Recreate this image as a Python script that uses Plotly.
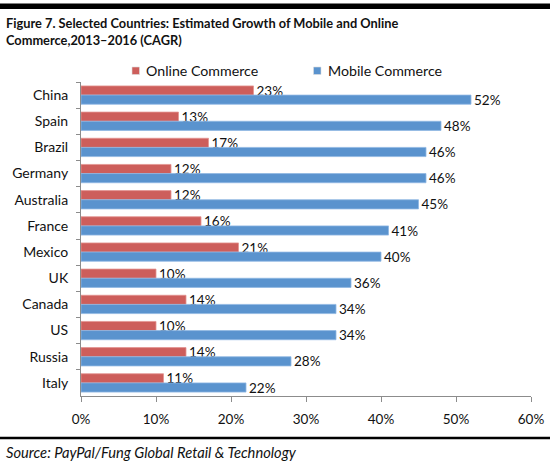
import plotly.graph_objects as go

countries = ["China", "Spain", "Brazil", "Germany", "Australia", "France",
             "Mexico", "UK", "Canada", "US", "Russia", "Italy"]
online = [23, 13, 17, 12, 12, 16, 21, 10, 14, 10, 14, 11]
mobile = [52, 48, 46, 46, 45, 41, 40, 36, 34, 34, 28, 22]
x_ticks = [0, 10, 20, 30, 40, 50, 60]
x_ticklabels = ["0%", "10%", "20%", "30%", "40%", "50%", "60%"]
series_names = ["Online Commerce", "Mobile Commerce"]

FONT = "Lato"
RED = "#CD5E5B"
BLUE = "#5A93CE"

fig = go.Figure()
fig.add_trace(go.Bar(
    y=countries, x=online, orientation="h", name=series_names[0],
    marker=dict(color=RED, line=dict(color="#E39491", width=0.8)),
    text=[f"{v}%" for v in online], textposition="outside", constraintext="none",
    textfont=dict(size=13.5, color="#111"), cliponaxis=False, showlegend=False,
))
fig.add_trace(go.Bar(
    y=countries, x=mobile, orientation="h", name=series_names[1],
    marker=dict(color=BLUE, line=dict(color="#8FB8E3", width=0.8)),
    text=[f"{v}%" for v in mobile], textposition="outside", constraintext="none",
    textfont=dict(size=13.5, color="#111"), cliponaxis=False, showlegend=False,
))

L, R, T, B = 81, 19, 82, 73
W, H = 550, 469
pw, ph = W - L - R, H - T - B

def px(xp):
    return (xp - L) / pw

def py(yp):
    return (H - B - yp) / ph

# custom compact legend (Excel style)
legend_items = [(series_names[0], RED, 132, 143.5), (series_names[1], BLUE, 313.5, 326)]
shapes = [
    dict(type="rect", xref="paper", yref="paper", x0=px(0), x1=px(W),
         y0=py(9), y1=py(3.5), fillcolor="black", line=dict(width=0)),
    dict(type="line", xref="paper", yref="paper", x0=px(0), x1=px(W),
         y0=py(438), y1=py(438), line=dict(color="black", width=2.5)),
]
annotations = [
    dict(text="<b>Figure 7. Selected Countries: Estimated Growth of Mobile and Online<br>Commerce,2013–2016 (CAGR)</b>",
         xref="paper", yref="paper", x=px(4), y=py(13), xanchor="left", yanchor="top",
         align="left", showarrow=False, font=dict(size=12.8, family=FONT, color="#111")),
    dict(text="<i>Source: PayPal/Fung Global Retail &amp; Technology</i>",
         xref="paper", yref="paper", x=px(4), y=py(452), xanchor="left", yanchor="middle",
         align="left", showarrow=False, font=dict(size=14.7, family=FONT, color="#111")),
]
for name, col, sx, tx in legend_items:
    shapes.append(dict(type="rect", xref="paper", yref="paper", x0=px(sx), x1=px(sx + 7.5),
                       y0=py(74.5), y1=py(67), fillcolor=col, line=dict(color="#ddd", width=0.6)))
    annotations.append(dict(text=name, xref="paper", yref="paper", x=px(tx), y=py(70.5),
                            xanchor="left", yanchor="middle", showarrow=False,
                            font=dict(size=14.2, family=FONT, color="#111")))

fig.update_layout(
    width=W, height=H,
    margin=dict(l=L, r=R, t=T, b=B, autoexpand=False),
    paper_bgcolor="white", plot_bgcolor="white",
    font=dict(family=FONT, size=14, color="#111"),
    barmode="group", bargap=0.3, bargroupgap=0,
    showlegend=False,
    xaxis=dict(range=[0, 60], tickvals=x_ticks, ticktext=x_ticklabels,
               showgrid=False, zeroline=False, showline=True, linecolor="#8c8c8c",
               linewidth=1, ticks="outside", ticklen=5, tickcolor="#8c8c8c",
               ticklabelstandoff=6,
               tickfont=dict(size=13.5, family=FONT), automargin=False),
    yaxis=dict(autorange="reversed", showgrid=False, showline=True, linecolor="#8c8c8c",
               linewidth=1, ticks="outside", ticklen=4, tickcolor="#8c8c8c",
               tickson="boundaries", tickfont=dict(size=14, family=FONT),
               ticklabelstandoff=9, automargin=False),
    shapes=shapes,
    annotations=annotations,
)

fig.write_html("out.html", config={"displayModeBar": False},
               post_script="document.body.style.margin='0';document.body.style.padding='0';")
